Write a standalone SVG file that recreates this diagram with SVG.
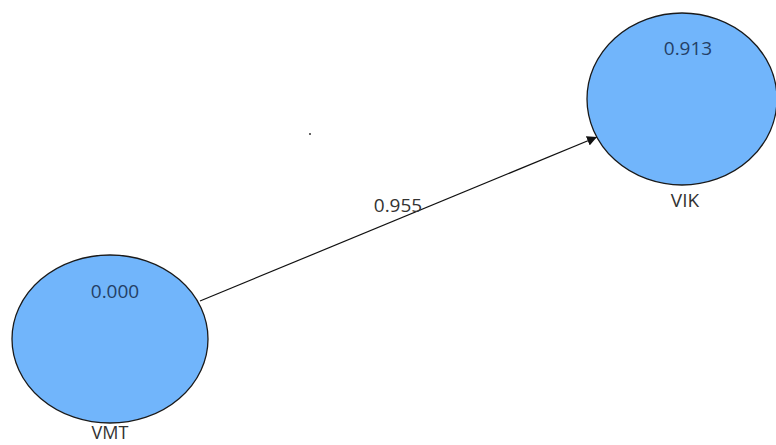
<svg xmlns="http://www.w3.org/2000/svg" width="776" height="445" viewBox="0 0 776 445">
<style>
.node{fill:#71b5fb;stroke:#1a1a1a;stroke-width:1.3}
.t{font-family:"Open Sans","DejaVu Sans",sans-serif;font-size:19px;text-anchor:middle}
.val{fill:#243f66}
.lbl{fill:#333}
.edge{stroke:#111;stroke-width:1.2;fill:none}
</style>
<defs>
<marker id="arr" viewBox="0 0 10 10" refX="10" refY="5" markerWidth="10" markerHeight="10" markerUnits="userSpaceOnUse" orient="auto">
<path d="M0,0 L10,5 L0,10 z" fill="#111"/>
</marker>
</defs>
<rect width="776" height="445" fill="#fff"/>
<g id="connectors">
<line class="edge" x1="200" y1="301" x2="597" y2="137" marker-end="url(#arr)"/>
<text class="t lbl" x="398" y="212">0.955</text>
</g>
<g id="VMT">
<ellipse class="node" cx="110" cy="339" rx="98" ry="84"/>
<text class="t val" x="115" y="298">0.000</text>
<text class="t lbl" x="110" y="439" style="font-size:18px">VMT</text>
</g>
<g id="VIK">
<ellipse class="node" cx="682" cy="99" rx="95" ry="86"/>
<text class="t val" x="688" y="55">0.913</text>
<text class="t lbl" x="685" y="207">VIK</text>
</g>
<circle cx="310" cy="134" r="1" fill="#333"/>
</svg>
